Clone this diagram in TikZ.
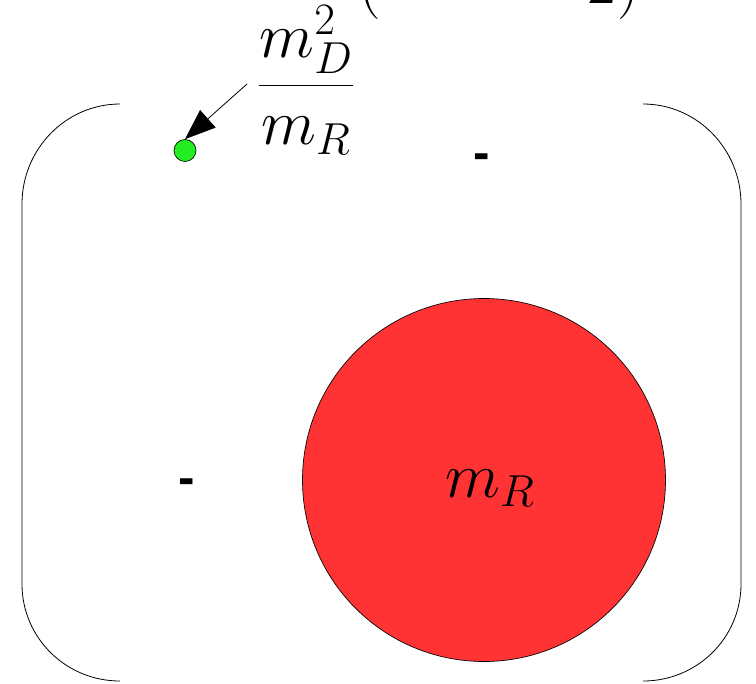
\RequirePackage{fix-cm}
\documentclass[tikz,border=0pt]{standalone}
\usepackage{fontspec}
\newfontfamily\dashfont{Liberation Sans}
\usetikzlibrary{arrows.meta}
\definecolor{dotgreen}{RGB}{34,238,34}
\definecolor{discred}{RGB}{255,51,51}
\newcommand{\bigmath}{\fontsize{48}{54}\selectfont}
\tikzset{
  bracket/.style={draw=black, line width=0.6pt},
  mathlabel/.style={font=\bigmath, inner sep=0pt},
  dashmark/.style={font=\dashfont\bfseries\fontsize{37}{40}\selectfont, inner sep=0pt, anchor=base},
  pointer/.style={draw=black, line width=0.6pt, -{Triangle[length=23pt,width=17.5pt]}},
}
\begin{document}
\begin{tikzpicture}[x=0.75pt,y=-0.75pt]
\useasboundingbox (0,0) rectangle (756,683);
% partial text cut off at top
\node[mathlabel, anchor=base west] (topl) at (358,3) {$($};
\node[mathlabel, anchor=base east] (topr) at (640,3) {$2)$};
% brackets
\draw[bracket] (120,104) .. controls (66,104) and (22,149) .. (22,204)
  -- (22,584) .. controls (22,638) and (66,681) .. (120,681);
\draw[bracket] (643,104) .. controls (697,104) and (741,149) .. (741,204)
  -- (741,584) .. controls (741,638) and (697,681) .. (643,681);
% red disc
\node[circle, draw=black, line width=0.5pt, fill=discred, minimum size=363*0.75pt, inner sep=0pt] (disc) at (484,480) {};
\node[mathlabel, anchor=base] (disclabel) at (490,497) {$m_R$};
% green dot
\node[circle, draw=black, line width=0.5pt, fill=dotgreen, minimum size=22*0.75pt, inner sep=0pt] (dot) at (185,150.5) {};
% fraction label
\node[mathlabel, anchor=base] (frac) at (306,101) {$\displaystyle\frac{m_D^2}{m_R}$};
\coordinate (arrstart) at (247,84);
\draw[pointer] (arrstart) -- (dot.north);
% dashes
\node[dashmark] (dashA) at (482,169.5) {-};
\node[dashmark] (dashB) at (187,494.5) {-};
\end{tikzpicture}
\end{document}
